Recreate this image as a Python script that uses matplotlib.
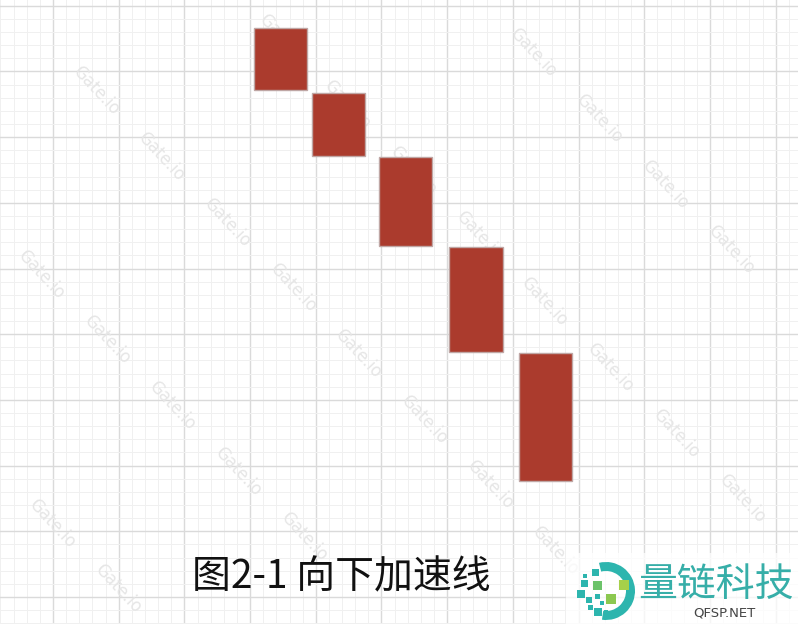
import numpy as np
import matplotlib
matplotlib.use("Agg")
import matplotlib.pyplot as plt
from matplotlib.patches import Wedge, Rectangle
from matplotlib.ticker import MultipleLocator

# candle data (bearish, open above close)
positions = [3.46, 4.34, 5.36, 6.44, 7.50]
opens = [86.6, 76.7, 67.0, 53.3, 37.1]
closes = [77.2, 67.1, 53.4, 37.3, 17.7]

caption = "图2-1 向下加速线"
watermark = "Gate.io"
logo_cn = "量链科技"
logo_en = "QFSP.NET"

W, H = 798, 624
fig = plt.figure(figsize=(W / 100, H / 100), dpi=100)
fig.patch.set_facecolor("white")

ax = fig.add_axes([0, 0, 1, 1])
ax.set_xlim(-0.807, 11.34)
ax.set_ylim(-4.11, 90.87)
ax.xaxis.set_major_locator(MultipleLocator(1))
ax.xaxis.set_minor_locator(MultipleLocator(0.2))
ax.yaxis.set_major_locator(MultipleLocator(10))
ax.yaxis.set_minor_locator(MultipleLocator(2))
ax.grid(which="minor", color="#f0f0f0", linewidth=0.7)
ax.grid(which="major", color="#dadada", linewidth=1.0)
ax.set_axisbelow(True)
ax.tick_params(which="both", length=0, labelbottom=False, labelleft=False)
for s in ax.spines.values():
    s.set_visible(False)

# faint diagonal watermark, under the candles (display pixel coords)
for j in range(-4, 4):
    for i in range(-2, 15):
        x = 30 + 11 * j + 65.7 * i
        y = 25 + 65.7 * i + 249 * j
        if 30 < x < W - 30 and 30 < y < H - 30:
            ax.text(x, H - y, watermark, rotation=-47, ha="center", va="center",
                    fontsize=12, color="#e6e6e6", family="DejaVu Sans",
                    transform=None, zorder=1)

heights = [c - o for o, c in zip(opens, closes)]
ax.bar(positions, heights, bottom=opens, width=0.81, color="#ab3b2d",
       edgecolor="#bfa7a5", linewidth=1.0, zorder=3)

# overlay in pixel coordinates for caption and logo
ov = fig.add_axes([0, 0, 1, 1], facecolor="none")
ov.set_xlim(0, W)
ov.set_ylim(H, 0)
ov.axis("off")

ov.text(341, 588, caption, ha="center", va="baseline", fontsize=28,
        color="#111111", family=["Noto Sans CJK SC", "DejaVu Sans"], zorder=5)

# logo
ov.add_patch(Rectangle((566, 553), 232, 71, facecolor="white", alpha=0.75,
                       edgecolor="none", zorder=4))
teal = "#2db5ae"
ov.add_patch(Wedge((606, 591), 29, -104, 98, width=9, facecolor=teal,
                   edgecolor="none", zorder=6))
squares = [
    (595, 572, 7, teal), (585, 576, 4, teal), (584, 583, 7, teal),
    (597, 585, 9, "#6cc36a"), (624, 585, 10, "#a6d04a"), (581, 594, 8, teal),
    (597, 596, 5, teal), (589, 600, 6, teal), (611, 599, 10, "#8cc850"),
    (602, 603, 4, teal), (590, 607, 5, teal), (598, 612, 8, teal),
    (606, 612, 4, teal),
]
for cx, cy, sz, col in squares:
    ov.add_patch(Rectangle((cx - sz / 2, cy - sz / 2), sz, sz, facecolor=col,
                           edgecolor="none", zorder=6))
ov.text(716, 585, logo_cn, ha="center", va="center", fontsize=28,
        color="#36aea8", family=["Noto Sans CJK SC", "DejaVu Sans"], zorder=6)
ov.text(724, 613, logo_en, ha="center", va="center", fontsize=9.5,
        color="#444444", family="DejaVu Sans", zorder=6)

fig.savefig("out.png", dpi=100)
